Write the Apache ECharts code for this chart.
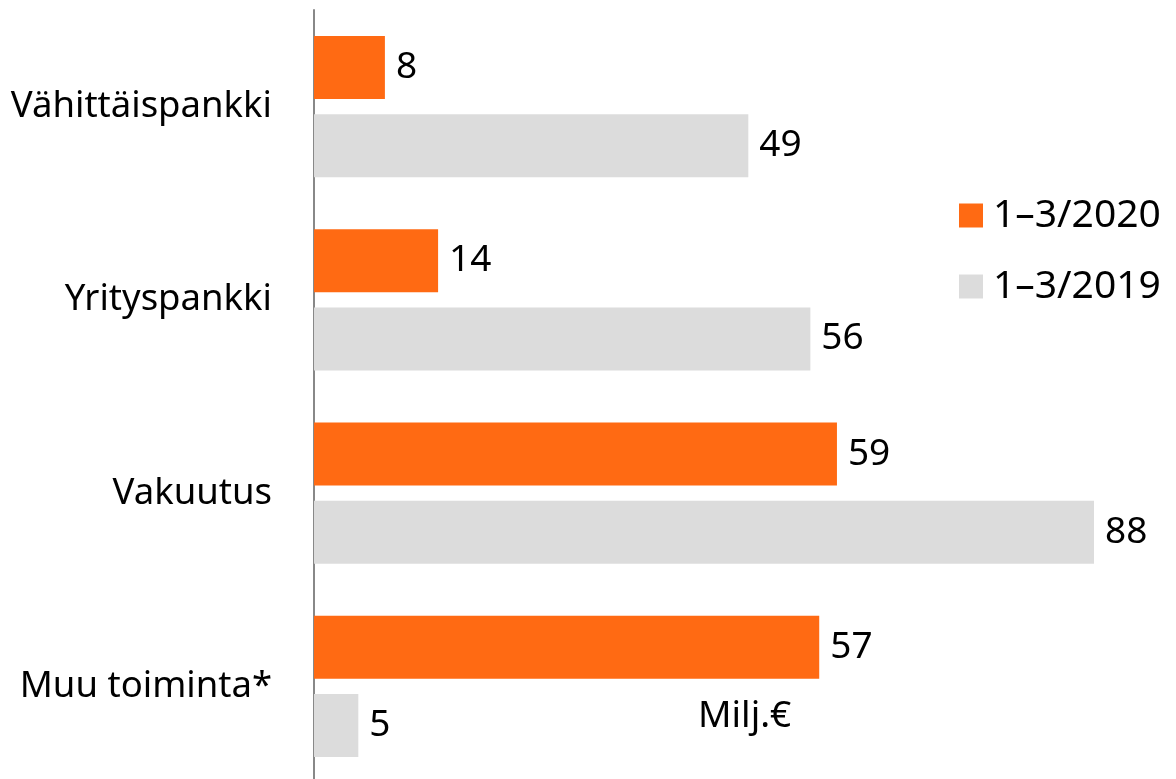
<!DOCTYPE html>
<html>
<head>
<meta charset="utf-8">
<script src="https://cdn.jsdelivr.net/npm/echarts@6/dist/echarts.min.js"></script>
<style>
  html, body { margin: 0; padding: 0; background: #fff; }
  #chart { width: 1176px; height: 779px; }
</style>
</head>
<body>
<div id="chart"></div>
<script>
const categories = ['Vähittäispankki', 'Yrityspankki', 'Vakuutus', 'Muu toiminta*'];
const seriesNames = ['1–3/2020', '1–3/2019'];
const values2020 = [8, 14, 59, 57];
const values2019 = [49, 56, 88, 5];

const FONT = 'Noto Sans';
const labelStyle = {
  show: true,
  position: 'right',
  distance: 11,
  color: '#000',
  fontSize: 37,
  fontFamily: FONT
};

const chart = echarts.init(document.getElementById('chart'));
chart.setOption({
  animation: false,
  grid: { left: 314, top: 10, width: 780, height: 773, outerBoundsMode: 'none' },
  legend: {
    data: seriesNames,
    orient: 'vertical',
    left: 954,
    top: 191,
    itemWidth: 24,
    itemHeight: 24,
    itemGap: 32,
    icon: 'rect',
    textStyle: { fontSize: 39, fontFamily: FONT, color: '#000', padding: [0, 0, 0, 5] }
  },
  xAxis: {
    type: 'value',
    min: 0,
    max: 88,
    show: false
  },
  yAxis: {
    type: 'category',
    data: categories,
    inverse: true,
    axisLine: { show: true, lineStyle: { color: '#888', width: 2 } },
    axisTick: { show: false },
    axisLabel: { fontSize: 36.5, fontFamily: FONT, color: '#000', margin: 42 }
  },
  graphic: [{
    type: 'text',
    left: 698,
    top: 698,
    style: { text: 'Milj.€', fontSize: 37, fontFamily: FONT, fill: '#000' }
  }],
  series: [
    {
      name: seriesNames[0],
      type: 'bar',
      data: values2020,
      barGap: '24%',
      barCategoryGap: '27%',
      itemStyle: { color: '#FF6A13' },
      label: labelStyle
    },
    {
      name: seriesNames[1],
      type: 'bar',
      data: values2019,
      itemStyle: { color: '#DCDCDC' },
      label: labelStyle
    }
  ]
});
</script>
</body>
</html>
